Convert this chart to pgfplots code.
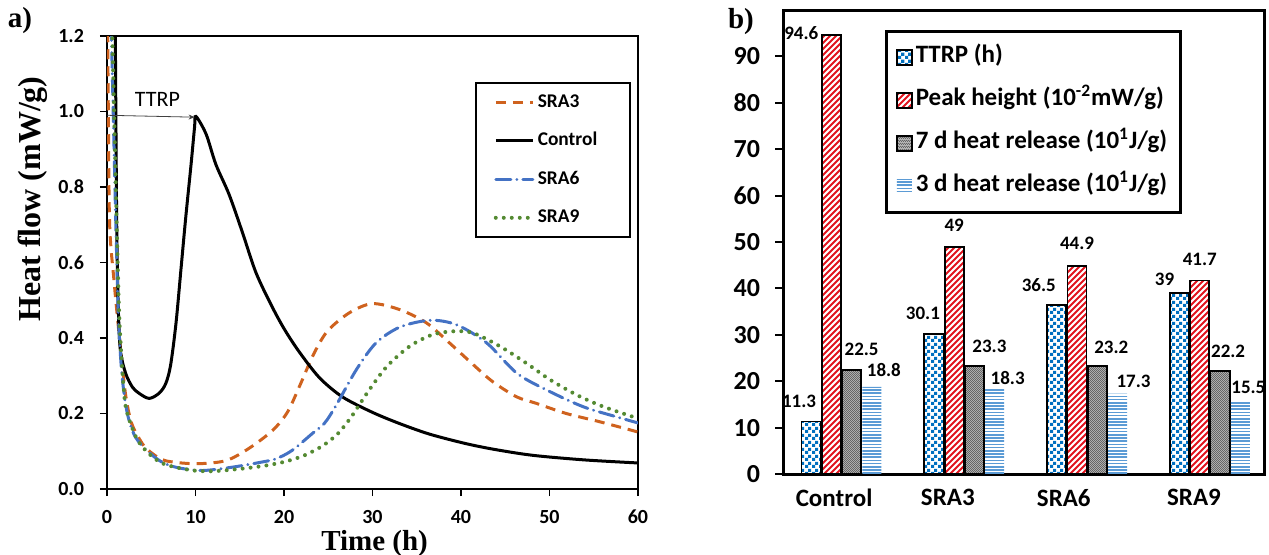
\documentclass[border=0pt]{standalone}
\usepackage{fontspec}
\setmainfont{Carlito}
\newfontfamily\timesf{Liberation Serif}
\usepackage{pgfplots}
\usepackage{pgfplotstable}
\pgfplotsset{compat=1.18}
\usetikzlibrary{patterns, arrows.meta}

% bar fill patterns
\pgfdeclarepatternformonly{ttrpcheck}{\pgfpointorigin}{\pgfqpoint{3.3pt}{3.3pt}}{\pgfqpoint{3.3pt}{3.3pt}}{%
  \pgfpathrectangle{\pgfpointorigin}{\pgfqpoint{1.65pt}{1.65pt}}%
  \pgfpathrectangle{\pgfqpoint{1.65pt}{1.65pt}}{\pgfqpoint{1.65pt}{1.65pt}}%
  \pgfusepath{fill}}
\pgfdeclarepatternformonly{redstripes}{\pgfqpoint{-1pt}{-1pt}}{\pgfqpoint{4pt}{4pt}}{\pgfqpoint{3pt}{3pt}}{%
  \pgfsetlinewidth{0.9pt}%
  \pgfpathmoveto{\pgfqpoint{0pt}{0pt}}%
  \pgfpathlineto{\pgfqpoint{3.1pt}{3.1pt}}%
  \pgfusepath{stroke}}
\pgfdeclarepatternformonly{finecheck}{\pgfpointorigin}{\pgfqpoint{1.2pt}{1.2pt}}{\pgfqpoint{1.2pt}{1.2pt}}{%
  \pgfpathrectangle{\pgfpointorigin}{\pgfqpoint{0.6pt}{0.6pt}}%
  \pgfpathrectangle{\pgfqpoint{0.6pt}{0.6pt}}{\pgfqpoint{0.6pt}{0.6pt}}%
  \pgfusepath{fill}}
\pgfdeclarepatternformonly{bluehlines}{\pgfqpoint{-0.5pt}{-0.5pt}}{\pgfqpoint{2.5pt}{2pt}}{\pgfqpoint{2pt}{1.6pt}}{%
  \pgfsetlinewidth{0.8pt}%
  \pgfpathmoveto{\pgfqpoint{-0.1pt}{0.4pt}}%
  \pgfpathlineto{\pgfqpoint{2.1pt}{0.4pt}}%
  \pgfusepath{stroke}}

\definecolor{sraorange}{RGB}{207,98,30}
\definecolor{srablue}{RGB}{68,114,196}
\definecolor{sragreen}{RGB}{84,138,50}
\definecolor{chkblue}{RGB}{0,112,192}
\definecolor{hblue}{RGB}{91,155,213}
\definecolor{stripred}{RGB}{225,20,30}

% bar data: x value label-dx label-dy
\pgfplotstableread{
x y dx dy
0 11.3 -6 10
1 30.1 -5.5 10.5
2 36.5 -9 10
3 39 -7.5 7
}\ttrp
\pgfplotstableread{
x y dx dy
0 94.6 -15 1
1 49 0 10.5
2 44.9 0 11
3 41.7 0 10.5
}\peak
\pgfplotstableread{
x y dx dy
0 22.5 5 10
1 23.3 7.5 10
2 23.2 7 9.5
3 22.2 4 10
}\heatseven
\pgfplotstableread{
x y dx dy
0 18.8 6 8.5
1 18.3 6.5 5.5
2 17.3 8 6
3 15.5 4 7.5
}\heatthree

\begin{document}
\begin{tikzpicture}
\useasboundingbox (0,0) rectangle (634.5pt,277pt);

% ---------- a) heat flow curves ----------
\begin{axis}[
  at={(53.5pt,32.5pt)}, anchor=south west,
  scale only axis, width=265.5pt, height=226.5pt,
  xmin=0, xmax=60, ymin=0, ymax=1.2,
  xtick={0,10,20,30,40,50,60},
  ytick={0,0.2,0.4,0.6,0.8,1.0,1.2},
  tick pos=left, tick align=outside, major tick length=3.5pt,
  tick style={black, line width=0.8pt},
  axis line style={line width=1pt},
  /pgf/number format/assume math mode=true,
  tick label style={font=\bfseries\fontsize{10}{12}\selectfont},
  yticklabel style={/pgf/number format/.cd, fixed, fixed zerofill, precision=1, /tikz/.cd, xshift=-4.5pt},
  xticklabel style={yshift=-3.5pt},
  xlabel={Time (h)},
  ylabel={Heat\ flow\ (mW/g)},
  xlabel style={font=\timesf\bfseries\fontsize{14.5}{16}\selectfont, at={(axis description cs:0.504,-0.12)}, anchor=center},
  ylabel style={font=\timesf\bfseries\fontsize{16}{18}\selectfont, at={(axis description cs:-0.139,0.64)}, anchor=center},
  legend style={at={(axis description cs:0.693,0.898)}, anchor=north west,
    draw=black, line width=0.8pt, inner xsep=9pt, inner ysep=3.5pt, row sep=7.3pt,
    font=\bfseries\fontsize{9.7}{11}\selectfont,
    nodes={inner ysep=1pt, inner xsep=1.5pt, text height=0.75em, text depth=0.25em}},
  legend cell align=left,
  legend image code/.code={\draw[#1] (0pt,0pt) -- (18.5pt,0pt);},
]
\addplot[sraorange, line width=1.5pt, dash pattern=on 5pt off 3.5pt, smooth, tension=0.5] coordinates {
  (0.05,1.3) (0.15,1.0) (0.3,0.7) (0.8,0.55) (1.2,0.45) (1.5,0.38) (2.1,0.25)
  (2.8,0.173) (4.0,0.12) (4.9,0.098) (6.6,0.075) (10,0.067) (13.4,0.075)
  (16,0.107) (18.7,0.155) (20.4,0.204) (21.9,0.28) (23.3,0.355) (24.9,0.418)
  (27.4,0.467) (30,0.491) (33.1,0.475) (36.1,0.44) (38.7,0.387) (41.4,0.329)
  (43.6,0.284) (46.3,0.244) (48.5,0.227) (51.9,0.2) (55.7,0.178) (60,0.151)
};
\addlegendentry{SRA3\hspace*{6pt}}
\addplot[black, line width=1.5pt, smooth, tension=0.5] coordinates {
  (0.9,1.35) (1.0,1.0) (1.1,0.7) (1.25,0.5) (1.5,0.37) (2.1,0.307) (2.87,0.27)
  (3.6,0.254) (4.76,0.24) (5.9,0.254) (6.65,0.28) (7.2,0.33) (7.8,0.44)
  (8.35,0.58) (8.9,0.72) (9.5,0.86) (9.9,0.96) (10.05,0.987) (11.2,0.94)
  (12.3,0.86) (13.8,0.78) (15.3,0.68) (16.8,0.575) (18.5,0.49) (20,0.425)
  (21.7,0.364) (24,0.295) (26.6,0.244) (30,0.203) (33.1,0.173) (36.5,0.145)
  (40.6,0.12) (44,0.104) (48.2,0.089) (54,0.077) (60,0.069)
};
\addlegendentry{Control\hspace*{6pt}}
\addplot[srablue, line width=1.5pt, dash pattern=on 7.5pt off 3pt on 0.1pt off 3pt, line cap=round, smooth, tension=0.5] coordinates {
  (0.4,1.3) (0.7,1.0) (1.0,0.7) (1.3,0.45) (1.7,0.3) (2.3,0.2) (3.2,0.138)
  (4.7,0.098) (6.3,0.07) (8.1,0.056) (10.8,0.049) (14.2,0.058) (17.4,0.071)
  (19.1,0.08) (20.9,0.102) (23.2,0.147) (24.6,0.175) (25.9,0.222) (28.2,0.317)
  (30.4,0.387) (33.1,0.429) (36.5,0.447) (39.5,0.435) (42.9,0.387) (46.3,0.307)
  (49.7,0.262) (53.8,0.218) (57.6,0.191) (60,0.175)
};
\addlegendentry{SRA6\hspace*{6pt}}
\addplot[sragreen, line width=2pt, dash pattern=on 0pt off 4pt, line cap=round, smooth, tension=0.5] coordinates {
  (0.5,1.3) (0.8,1.0) (1.1,0.7) (1.4,0.45) (1.9,0.262) (2.3,0.2) (3.6,0.124)
  (6,0.071) (9.2,0.051) (11.7,0.047) (14.9,0.053) (17.9,0.062) (20.2,0.073)
  (22.3,0.089) (24.4,0.115) (26.1,0.147) (27.6,0.191) (29.5,0.258) (31.6,0.324)
  (34.2,0.378) (36.8,0.409) (39.3,0.418) (41.4,0.413) (44.4,0.378) (47.4,0.333)
  (50.1,0.289) (53.1,0.249) (56.1,0.218) (60,0.187)
};
\addlegendentry{SRA9\hspace*{6pt}}
\draw[black!75, line width=0.4pt, -{Stealth[length=3pt,width=2.5pt]}] (axis cs:0,0.99) -- (axis cs:9.9,0.985);
\node[font=\fontsize{11}{12}\selectfont] at (axis cs:5.7,1.031) {TTRP};
\end{axis}

% ---------- b) bar chart ----------
\begin{axis}[
  at={(391.5pt,40pt)}, anchor=south west,
  scale only axis, width=240.5pt, height=232pt,
  xmin=-0.476, xmax=3.44, ymin=0, ymax=100,
  ybar, bar width=0.155,
  xtick={-0.06,0.866,1.81,2.87},
  xticklabels={Control,SRA3,SRA6,SRA9},
  ytick={0,10,20,30,40,50,60,70,80,90},
  tick pos=left, tick align=outside, major tick length=4pt,
  xtick style={draw=none},
  ytick style={black, line width=1pt},
  axis line style={line width=1.5pt},
  /pgf/number format/assume math mode=true,
  yticklabel style={font=\bfseries\fontsize{13}{14}\selectfont, xshift=-4pt},
  xticklabel style={font=\bfseries\fontsize{12.5}{14}\selectfont},
  visualization depends on={\thisrow{dx}\as\dx},
  visualization depends on={\thisrow{dy}\as\dy},
  nodes near coords,
  nodes near coords style={font=\bfseries\fontsize{9.5}{11}\selectfont, anchor=center, xshift=\dx pt, yshift=\dy pt},
  legend style={at={(axis description cs:0.211,0.957)}, anchor=north west,
    draw=black, line width=1.5pt, inner xsep=5pt, inner ysep=7pt, row sep=9.5pt,
    font=\bfseries\fontsize{12.5}{14}\selectfont,
    nodes={inner ysep=1pt, inner xsep=1.5pt, text height=0.75em, text depth=0.25em}},
  legend cell align=left,
  legend image code/.code={\draw[#1] (0pt,-3.7pt) rectangle (7.5pt,3.7pt);},
]
\addplot[bar shift=-0.2475, draw=black, line width=0.9pt, pattern=ttrpcheck, pattern color=chkblue]
  table[x=x, y=y] {\ttrp};
\addlegendentry{TTRP (h)}
\addplot[bar shift=-0.0825, draw=black, line width=0.9pt, pattern=redstripes, pattern color=stripred]
  table[x=x, y=y] {\peak};
\addlegendentry{Peak height (10\textsuperscript{-2}mW/g)}
\addplot[bar shift=0.0825, draw=black, line width=0.9pt, fill=gray!55, postaction={pattern=finecheck, pattern color=black!60}]
  table[x=x, y=y] {\heatseven};
\addlegendentry{7 d heat release (10\textsuperscript{1}J/g)}
\addplot[bar shift=0.2475, draw=none, pattern=bluehlines, pattern color=hblue,
  legend image code/.code={\fill[pattern=bluehlines, pattern color=hblue] (0pt,-3.7pt) rectangle (7.5pt,3.7pt);}]
  table[x=x, y=y] {\heatthree};
\addlegendentry{3 d heat release (10\textsuperscript{1}J/g)}
\end{axis}

\node[font=\timesf\bfseries\fontsize{14.5}{16}\selectfont] at (10pt,266.5pt) {a)};
\node[font=\timesf\bfseries\fontsize{14.5}{16}\selectfont] at (370.5pt,266pt) {b)};
\end{tikzpicture}
\end{document}
